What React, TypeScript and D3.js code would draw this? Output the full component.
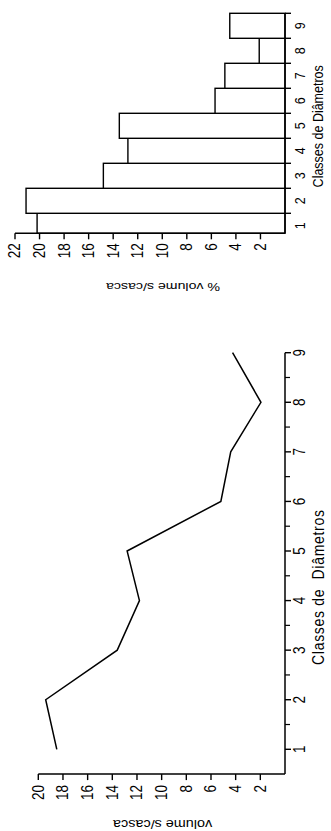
import React from "react";
import * as d3 from "d3";

// ---- data ----
const categories = [1, 2, 3, 4, 5, 6, 7, 8, 9];
const pctVolume = [20.2, 21.1, 14.8, 12.8, 13.5, 5.7, 4.9, 2.1, 4.5];
const volume = [18.5, 19.4, 13.6, 11.8, 12.8, 5.2, 4.4, 1.95, 4.25];
const pctTicks = [2, 4, 6, 8, 10, 12, 14, 16, 18, 20, 22];
const volTicks = [2, 4, 6, 8, 10, 12, 14, 16, 18, 20];
const pctTitle = "% volume s/casca";
const volTitle = "volume s/casca";
const catTitleTop = "Classes de Diâmetros";
const catTitleBottom = "Classes de\u00a0\u00a0Diâmetros";

const FONT = "'Liberation Sans', Arial, Helvetica, sans-serif";
const SX = 1.2; // horizontal stretch of the scanned figure

const rotUp = (x: number, y: number) => `translate(${x},${y}) scale(${SX},1) rotate(-90)`;
const rotDown = (x: number, y: number) => `translate(${x},${y}) scale(${SX},1) rotate(180)`;

function TopPanel() {
  const axisX = 285;
  const axisY = 233.3;
  const x = d3.scaleLinear().domain([0, 22]).range([axisX, 15]);
  const y = d3.scaleLinear().domain([0.5, 9.5]).range([238.3, 13.3]);
  const boundaries = d3.range(1.5, 10, 1);
  return (
    <g>
      {categories.map((c, i) => {
        const y0 = y(c + 0.5);
        const y1 = Math.min(y(c - 0.5), axisY);
        return (
          <rect
            key={c}
            x={x(pctVolume[i])}
            y={y0}
            width={x(0) - x(pctVolume[i])}
            height={y1 - y0}
            fill="white"
            stroke="black"
            strokeWidth={1.4}
          />
        );
      })}
      {/* value axis */}
      <line x1={x(22)} x2={axisX} y1={axisY} y2={axisY} stroke="black" strokeWidth={1.5} />
      {pctTicks.map((t) => (
        <g key={t}>
          <line x1={x(t)} x2={x(t)} y1={axisY} y2={axisY + 6} stroke="black" strokeWidth={1.4} />
          <text
            transform={rotUp(x(t), axisY + 10)}
            textAnchor="end"
            dominantBaseline="central"
            fontSize={13.5}
            fontFamily={FONT}
          >
            {t}
          </text>
        </g>
      ))}
      <text
        transform={rotDown((x(22) + axisX) / 2 + 13, 287)}
        textAnchor="middle"
        dominantBaseline="central"
        fontSize={11.8}
        fontFamily={FONT}
      >
        {pctTitle}
      </text>
      {/* category axis */}
      <line x1={axisX} x2={axisX} y1={y(9.5)} y2={axisY} stroke="black" strokeWidth={1.5} />
      {boundaries.map((b) => (
        <line key={b} x1={axisX} x2={axisX + 6} y1={y(b)} y2={y(b)} stroke="black" strokeWidth={1.4} />
      ))}
      {categories.map((c) => (
        <text
          key={c}
          transform={rotUp(300, y(c))}
          textAnchor="middle"
          dominantBaseline="central"
          fontSize={12.5}
          fontFamily={FONT}
        >
          {c}
        </text>
      ))}
      <text
        transform={rotUp(318.5, (y(9.5) + axisY) / 2 + 3)}
        textAnchor="middle"
        dominantBaseline="central"
        fontSize={12.5}
        fontFamily={FONT}
      >
        {catTitleTop}
      </text>
    </g>
  );
}

function BottomPanel() {
  const axisX = 285;
  const x = d3.scaleLinear().domain([0, 20]).range([axisX, 38.3]);
  const y = d3.scaleLinear().domain([1, 9]).range([749.3, 352.7]);
  const axisY = y(0.5);
  const minor = d3.range(1.5, 9, 1);
  const line = d3
    .line<number>()
    .x((v) => x(v))
    .y((_, i) => y(categories[i]));
  return (
    <g>
      <path d={line(volume) || ""} fill="none" stroke="black" strokeWidth={1.5} strokeLinejoin="miter" />
      {/* value axis */}
      <line x1={x(20)} x2={axisX} y1={axisY} y2={axisY} stroke="black" strokeWidth={1.5} />
      {volTicks.map((t) => (
        <g key={t}>
          <line x1={x(t)} x2={x(t)} y1={axisY} y2={axisY + 6} stroke="black" strokeWidth={1.4} />
          <text
            transform={rotUp(x(t), axisY + 11)}
            textAnchor="end"
            dominantBaseline="central"
            fontSize={13.5}
            fontFamily={FONT}
          >
            {t}
          </text>
        </g>
      ))}
      <text
        transform={rotDown((x(20) + axisX) / 2 + 1, 824)}
        textAnchor="middle"
        dominantBaseline="central"
        fontSize={12}
        fontFamily={FONT}
      >
        {volTitle}
      </text>
      {/* category axis */}
      <line x1={axisX} x2={axisX} y1={y(9)} y2={axisY} stroke="black" strokeWidth={1.5} />
      {categories.map((c) => (
        <line key={c} x1={axisX} x2={axisX + 6} y1={y(c)} y2={y(c)} stroke="black" strokeWidth={1.4} />
      ))}
      {minor.map((m) => (
        <line key={m} x1={axisX} x2={axisX + 5} y1={y(m)} y2={y(m)} stroke="black" strokeWidth={1.2} />
      ))}
      {categories.map((c) => (
        <text
          key={c}
          transform={rotUp(300, y(c))}
          textAnchor="middle"
          dominantBaseline="central"
          fontSize={13.5}
          fontFamily={FONT}
        >
          {c}
        </text>
      ))}
      <text
        transform={rotUp(318, 587.5)}
        textAnchor="middle"
        dominantBaseline="central"
        fontSize={14}
        fontFamily={FONT}
        textLength={155}
        lengthAdjust="spacing"
      >
        {catTitleBottom}
      </text>
    </g>
  );
}

export default function App() {
  return (
    <svg
      width={331}
      height={831}
      viewBox="0 0 331 831"
      style={{ position: "absolute", left: 0, top: 0, background: "white" }}
    >
      <rect x={0} y={0} width={331} height={831} fill="white" />
      <TopPanel />
      <BottomPanel />
    </svg>
  );
}
